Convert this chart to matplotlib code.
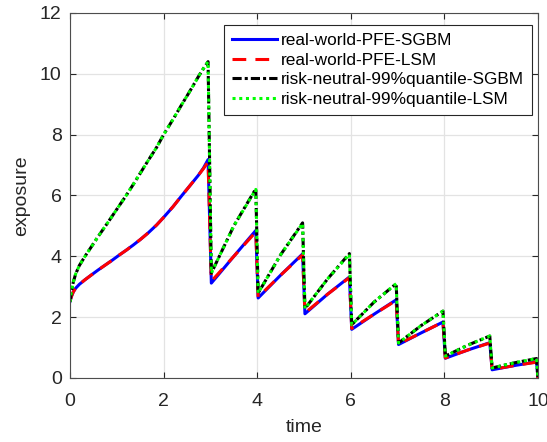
import matplotlib
matplotlib.use("Agg")
import matplotlib.pyplot as plt
import numpy as np

# time grid
time = [0.0, 0.03, 0.07, 0.12, 0.2, 0.32, 0.45, 0.6, 0.75, 0.9, 1.05, 1.2, 1.35, 1.5, 1.67,
        1.85, 2.0, 2.2, 2.38, 2.55, 2.74, 2.85, 2.95,
        3.02, 3.5, 3.97,
        4.02, 4.5, 4.97,
        5.02, 5.5, 5.97,
        6.02, 6.5, 6.97,
        7.02, 7.5, 7.97,
        8.02, 8.5, 8.97,
        9.02, 9.5, 9.97,
        10.0]

pfe_sgbm = [2.52, 2.68, 2.83, 2.95, 3.08, 3.23, 3.38, 3.55, 3.71, 3.87, 4.04, 4.20, 4.37, 4.55, 4.77,
            5.03, 5.28, 5.63, 5.98, 6.30, 6.66, 6.90, 7.18,
            3.12, 4.00, 4.85,
            2.63, 3.38, 4.08,
            2.11, 2.75, 3.32,
            1.60, 2.10, 2.57,
            1.10, 1.48, 1.84,
            0.65, 0.92, 1.16,
            0.27, 0.41, 0.53,
            0.0]

pfe_lsm = [2.52, 2.68, 2.83, 2.95, 3.08, 3.23, 3.38, 3.55, 3.71, 3.87, 4.04, 4.20, 4.37, 4.55, 4.77,
           5.03, 5.28, 5.63, 5.98, 6.30, 6.66, 6.88, 7.10,
           3.18, 4.00, 4.80,
           2.66, 3.38, 4.05,
           2.14, 2.75, 3.30,
           1.63, 2.10, 2.55,
           1.12, 1.48, 1.84,
           0.66, 0.92, 1.15,
           0.28, 0.41, 0.52,
           0.0]

q_sgbm = [2.50, 2.85, 3.15, 3.42, 3.70, 4.00, 4.30, 4.65, 4.98, 5.32, 5.66, 6.00, 6.36, 6.73, 7.15,
          7.58, 8.00, 8.50, 8.97, 9.40, 9.90, 10.17, 10.40,
          3.45, 5.00, 6.22,
          2.79, 4.05, 5.10,
          2.28, 3.25, 4.09,
          1.75, 2.50, 3.10,
          1.15, 1.72, 2.20,
          0.72, 1.08, 1.38,
          0.33, 0.50, 0.64,
          0.0]

q_lsm = [2.50, 2.85, 3.15, 3.42, 3.70, 4.00, 4.30, 4.65, 4.98, 5.32, 5.66, 6.00, 6.36, 6.73, 7.15,
         7.58, 8.00, 8.50, 8.97, 9.40, 9.90, 10.17, 10.40,
         3.45, 5.00, 6.20,
         2.79, 4.05, 5.08,
         2.28, 3.25, 4.07,
         1.75, 2.50, 3.10,
         1.15, 1.72, 2.20,
         0.72, 1.08, 1.38,
         0.33, 0.50, 0.64,
         0.0]

labels = ["real-world-PFE-SGBM", "real-world-PFE-LSM",
          "risk-neutral-99%quantile-SGBM", "risk-neutral-99%quantile-LSM"]

plt.rcParams['font.family'] = ['Liberation Sans', 'DejaVu Sans']
fig = plt.figure(figsize=(5.47, 4.42), dpi=100)
ax = fig.add_axes([0.128, 0.1448, 0.8555, 0.8258])

ax.plot(time, pfe_sgbm, color='#0000ff', lw=2.2, ls='-', label=labels[0])
ax.plot(time, pfe_lsm, color='#ff0000', lw=2.2, ls=(0, (4.5, 3)), label=labels[1])
ax.plot(time, q_sgbm, color='#000000', lw=2.2, ls=(0, (3, 1, 1, 1)), label=labels[2])
ax.plot(time, q_lsm, color='#00ff00', lw=2.2, ls=(0, (1, 1.2)), label=labels[3])

ax.set_xlim(0, 10)
ax.set_ylim(0, 12)
ax.set_xticks([0, 2, 4, 6, 8, 10])
ax.set_yticks([0, 2, 4, 6, 8, 10, 12])
ax.grid(True, color='#e3e3e3', lw=0.9)
ax.set_axisbelow(True)
ax.tick_params(direction='in', top=True, right=True, length=4, width=0.8,
               labelsize=14, colors='#262626')
ax.tick_params(axis='x', pad=10.5)
ax.tick_params(axis='y', pad=6)
for s in ax.spines.values():
    s.set_color('#4d4d4d')
    s.set_linewidth(0.8)

ax.set_xlabel('time', fontsize=14, color='#262626', labelpad=7)
ax.set_ylabel('exposure', fontsize=14, color='#262626', labelpad=7)

leg = ax.legend(loc='upper right', bbox_to_anchor=(0.987, 0.967), fontsize=12.4,
                handlelength=2.6, handletextpad=0.25, labelspacing=0.27,
                borderpad=0.45, borderaxespad=0.0, fancybox=False, framealpha=1)
leg.get_frame().set_edgecolor('#262626')
leg.get_frame().set_linewidth(0.8)

fig.savefig('out.png', dpi=100)
